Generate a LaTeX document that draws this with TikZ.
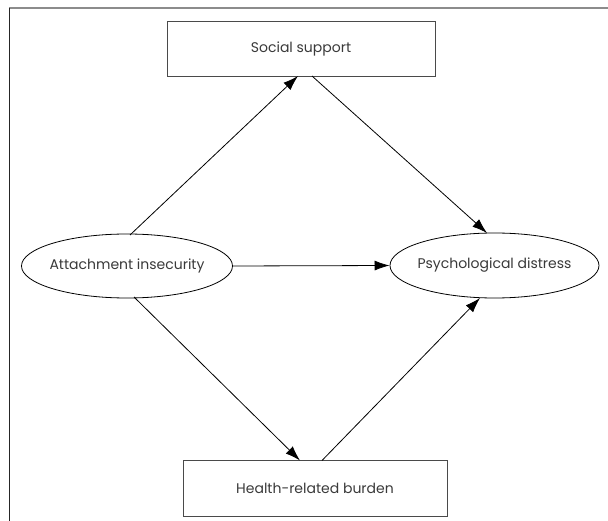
\documentclass[tikz,border=0pt]{standalone}
\usepackage{fontspec}
\setmainfont{Poppins}
\usetikzlibrary{shapes.geometric,arrows.meta}
\definecolor{txt}{HTML}{3A3A3A}
\definecolor{edge}{HTML}{4A4A4A}
\newcommand{\zlabel}[1]{\makebox[0pt]{#1}}
\tikzset{
  boxnode/.style={draw=edge, line width=0.9pt, rectangle, inner sep=0pt, text=txt, font=\fontsize{14}{16}\selectfont},
  ellnode/.style={draw=black, line width=0.8pt, ellipse, inner sep=0pt, text=txt, font=\fontsize{14}{16}\selectfont},
  conn/.style={draw=black, line width=0.8pt, -{Latex[length=15pt,width=10pt]}},
}
\begin{document}
\begin{tikzpicture}[x=1pt,y=-1pt]
\useasboundingbox (0,0) rectangle (608,521);
\fill[white] (0,0) rectangle (608,521);
\draw[color=gray!90, line width=2pt] (9,8.5) -- (608,8.5);
\draw[color=black!85, line width=1.3pt] (9.5,8) -- (9.5,521);
\node[boxnode, minimum width=268pt, minimum height=55pt] (ss) at (301,48.5) {\zlabel{Social support}};
\node[boxnode, minimum width=264pt, minimum height=56pt] (hb) at (315,488.5) {\zlabel{Health-related burden}};
\node[ellnode, minimum width=211pt, minimum height=64pt] (ai) at (127,266) {\zlabel{Attachment insecurity}};
\node[ellnode, minimum width=209pt, minimum height=65pt] (pd) at (494.5,265.5) {\zlabel{Psychological distress}};
\coordinate (ss1) at (298,76);
\coordinate (ss2) at (312,76);
\coordinate (hb1) at (300,460.5);
\coordinate (hb2) at (322,460.5);
\coordinate (ai1) at (130,235);
\coordinate (ai2) at (134,297);
\coordinate (pd1) at (487,233);
\coordinate (pd2) at (480,298);
\draw[conn] (ai1) -- (ss1);
\draw[conn] (ss2) -- (pd1);
\draw[conn] (ai.east) -- (pd.west);
\draw[conn] (ai2) -- (hb1);
\draw[conn] (hb2) -- (pd2);
\end{tikzpicture}
\end{document}
